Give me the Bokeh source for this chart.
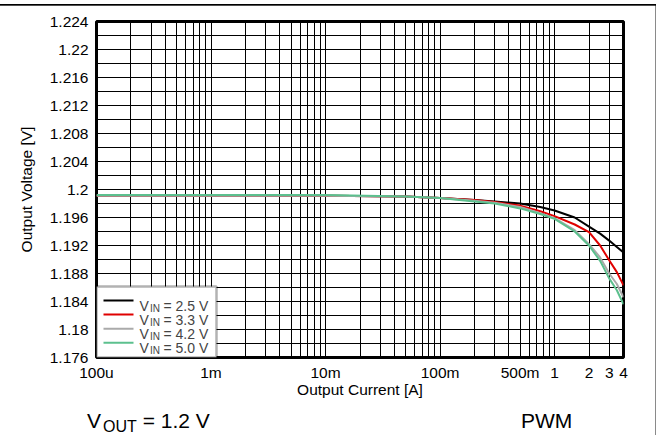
from bokeh.plotting import figure
from bokeh.layouts import column
from bokeh.models import (FixedTicker, CustomJSTickFormatter, Label, BoxAnnotation, Range1d, Div)
from bokeh.embed import file_html
from bokeh.resources import INLINE

# ---------------- data ----------------
current = [1e-4, 1e-3, 1e-2, 0.05, 0.1, 0.2, 0.3, 0.5, 0.75, 1.0, 1.5, 2.0, 2.5, 3.0, 3.5, 4.0]
v_in_25 = [1.1991, 1.1991, 1.1991, 1.1990, 1.1988, 1.1985, 1.1983, 1.1980, 1.1975, 1.1970,
           1.1960, 1.1947, 1.1937, 1.1927, 1.1918, 1.1910]
v_in_33 = [1.1991, 1.1991, 1.1991, 1.1990, 1.1988, 1.1985, 1.1982, 1.1977, 1.1969, 1.1962,
           1.1950, 1.1939, 1.1920, 1.1899, 1.1882, 1.1863]
v_in_42 = [1.1991, 1.1991, 1.1991, 1.1990, 1.1988, 1.1984, 1.1981, 1.1975, 1.1966, 1.1959,
           1.1942, 1.1922, 1.1903, 1.1880, 1.1865, 1.1846]
v_in_50 = [1.1992, 1.1992, 1.1992, 1.1990, 1.1988, 1.1983, 1.1980, 1.1973, 1.1965, 1.1958,
           1.1940, 1.1920, 1.1898, 1.1873, 1.1856, 1.1836]
series = [v_in_25, v_in_33, v_in_42, v_in_50]
series_names = ["2.5", "3.3", "4.2", "5.0"]
series_colors = ["#000000", "#e00000", "#aaaaaa", "#5cc08e"]

x_ticks = [1e-4, 1e-3, 1e-2, 0.1, 0.5, 1, 2, 3, 4]
x_tick_labels = ["100u", "1m", "10m", "100m", "500m", "1", "2", "3", "4"]
y_ticks = [1.176, 1.18, 1.184, 1.188, 1.192, 1.196, 1.2, 1.204, 1.208, 1.212, 1.216, 1.22, 1.224]
y_tick_labels = ["1.176", "1.18", "1.184", "1.188", "1.192", "1.196", "1.2",
                 "1.204", "1.208", "1.212", "1.216", "1.22", "1.224"]

x_title = "Output Current [A]"
y_title = "Output Voltage [V]"
note_vout = ("V", "OUT", "= 1.2 V")
note_mode = "PWM"

FONT = "Liberation Sans"

# ---------------- figure ----------------
W, H = 657, 403
p = figure(width=W, height=H, x_axis_type="log",
           x_range=Range1d(1e-4, 4), y_range=Range1d(1.176, 1.224),
           output_backend="svg", toolbar_location=None,
           min_border_left=96, min_border_right=34, min_border_top=21, min_border_bottom=46)
p.margin = (0, 0, 0, 0)
p.background_fill_color = "white"
p.border_fill_color = None
p.outline_line_color = "black"
p.outline_line_width = 3

grid_x = sorted(set([m * 10.0 ** e for e in range(-4, 0) for m in range(1, 10)] + [1, 2, 3, 4]))
grid_y = [round(1.176 + 0.002 * i, 3) for i in range(25)]
p.xgrid.ticker = FixedTicker(ticks=grid_x)
p.ygrid.ticker = FixedTicker(ticks=grid_y)
for g in (p.xgrid, p.ygrid):
    g.grid_line_color = "black"
    g.grid_line_width = 1
    g.grid_line_alpha = 1.0

p.xaxis.ticker = FixedTicker(ticks=x_ticks)
p.yaxis.ticker = FixedTicker(ticks=y_ticks)
p.xaxis.formatter = CustomJSTickFormatter(args=dict(vals=x_ticks, labs=x_tick_labels), code="""
let best = 0, bd = Infinity;
for (let i = 0; i < vals.length; i++) {
  const d = Math.abs(Math.log(tick) - Math.log(vals[i]));
  if (d < bd) { bd = d; best = i; }
}
return labs[best];
""")
p.yaxis.formatter = CustomJSTickFormatter(args=dict(vals=y_ticks, labs=y_tick_labels), code="""
let best = 0, bd = Infinity;
for (let i = 0; i < vals.length; i++) {
  const d = Math.abs(tick - vals[i]);
  if (d < bd) { bd = d; best = i; }
}
return labs[best];
""")
for ax in (p.xaxis, p.yaxis):
    ax.axis_line_color = None
    ax.major_tick_line_color = None
    ax.minor_tick_line_color = None
    ax.major_tick_out = 0
    ax.major_tick_in = 0
    ax.minor_tick_out = 0
    ax.major_label_text_font = FONT
    ax.major_label_text_font_size = "15.5px"
    ax.major_label_text_color = "black"
    ax.axis_label_text_font = FONT
    ax.axis_label_text_font_size = "15.5px"
    ax.axis_label_text_font_style = "normal"
    ax.axis_label_text_color = "black"
p.xaxis.major_label_standoff = 6
p.yaxis.major_label_standoff = 8
p.xaxis.axis_label = x_title
p.yaxis.axis_label = y_title
p.xaxis.axis_label_standoff = -3
p.yaxis.axis_label_standoff = 12

for ys, c in zip(series, series_colors):
    p.line(current, ys, line_color=c, line_width=2)

# ---------------- legend (custom, with subscripts) ----------------
p.add_layout(BoxAnnotation(left=96, right=216, top=286, bottom=357,
                           left_units="canvas", right_units="canvas",
                           top_units="canvas", bottom_units="canvas",
                           fill_color="white", fill_alpha=1.0,
                           line_color="black", line_width=2.5))
row0, drow = 300, 14.1
for i, (name, c) in enumerate(zip(series_names, series_colors)):
    yc = row0 + i * drow
    p.add_layout(BoxAnnotation(left=103, right=133, top=yc - 1, bottom=yc + 1,
                               left_units="canvas", right_units="canvas",
                               top_units="canvas", bottom_units="canvas",
                               fill_color=c, fill_alpha=1.0, line_color=None))
    p.add_layout(Label(x=139, y=yc + 5, x_units="canvas", y_units="canvas", text="V",
                       text_font=FONT, text_font_size="14px", text_baseline="alphabetic"))
    p.add_layout(Label(x=149.5, y=yc + 7.5, x_units="canvas", y_units="canvas", text="IN",
                       text_font=FONT, text_font_size="10px", text_baseline="alphabetic"))
    p.add_layout(Label(x=163, y=yc + 5, x_units="canvas", y_units="canvas",
                       text=f"= {name} V",
                       text_font=FONT, text_font_size="14px", text_baseline="alphabetic"))

# ---------------- notes below the chart ----------------
span = "position:absolute; top:7px; line-height:21px; white-space:nowrap;"
notes_html = (
    f'<div style="position:relative; width:{W}px; height:32px; font-family:\'{FONT}\'; '
    f'font-size:21px; color:#000;">'
    f'<span style="{span} left:87px;">{note_vout[0]}<span style="font-size:16px; '
    f'position:relative; top:4px; margin-left:2px;">{note_vout[1]}</span> {note_vout[2]}</span>'
    f'<span style="{span} left:521px;">{note_mode}</span>'
    f'</div>'
)
notes = Div(text=notes_html, width=W, height=32, margin=(0, 0, 0, 0))

layout = column(p, notes, spacing=0, margin=(0, 0, 0, 0))
# thin page frame lines (top and right) drawn as the layout's background
layout.styles = {
    "background": ("linear-gradient(#000,#000) 0px 3.5px / 656px 1.7px no-repeat, "
                   "linear-gradient(#8a8a8a,#8a8a8a) 654.6px 4px / 1.2px 431px no-repeat, "
                   "#ffffff"),
}

open("out.html", "w").write(file_html(layout, INLINE))
